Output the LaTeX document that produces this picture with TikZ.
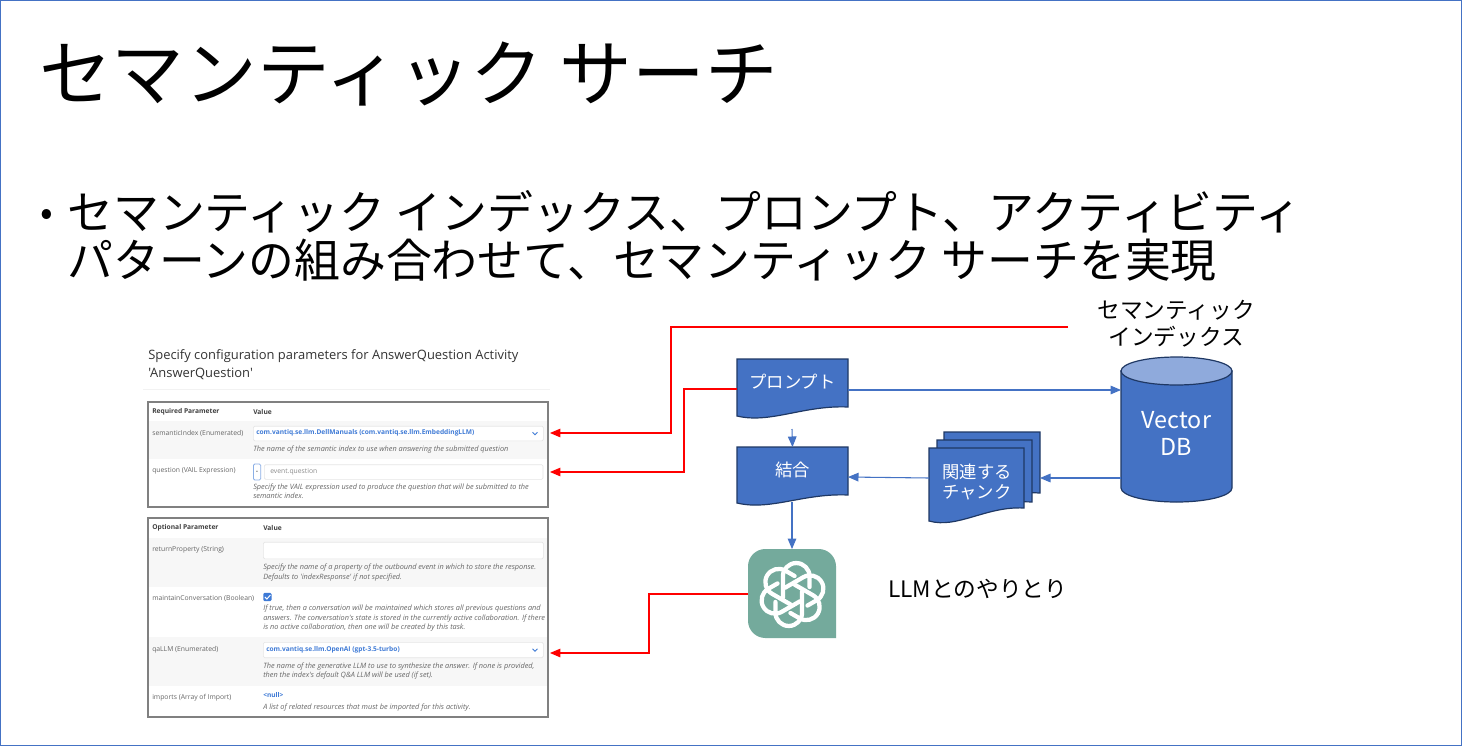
\documentclass[tikz,border=0pt]{standalone}
\usepackage{fontspec}
\setmainfont{Noto Sans CJK JP}
\newfontfamily\panelfont{Open Sans}
\usetikzlibrary{shapes,arrows}
\usetikzlibrary{calc}
\definecolor{myblue}{RGB}{68, 114, 196}
\definecolor{mydark}{RGB}{31, 56, 100}
\definecolor{mylight}{RGB}{143, 170, 220}
\definecolor{mygreen}{RGB}{116, 170, 156}
\definecolor{myframe}{RGB}{128, 128, 128}
\definecolor{myrow}{RGB}{247, 247, 247}
\definecolor{mylink}{RGB}{62, 122, 214}

% wave sheet: left, top, right, bottom at right edge, bottom at left edge
\newcommand{\wavesheet}[5]{
\draw[sheet-line,fill=myblue] (#1,#2) -- (#3,#2) -- (#3,#4) .. controls ($(#1,#4)!0.6!(#3,#4)+(0,-2)$) and ($(#1,#5)!0.3!(#3,#5)+(0,8)$) .. (#1,#5) -- cycle;
}
\newcommand{\chevron}[2]{
\draw[mylink,line width=0.7pt] (#1-2.5,#2-1.2) -- (#1,#2+1.2) -- (#1+2.5,#2-1.2);
}

\begin{document}
\begin{tikzpicture}[x=0.75pt,y=-0.75pt]

\tikzstyle{sheet-line} = [draw=mydark,line width=0.9pt,line join=miter]
\tikzstyle{sheet-box} = [draw=none,text=white,inner sep=0,outer sep=0,font=\fontsize{13}{15.5}\selectfont,align=center]
\tikzstyle{blue-arrow} = [draw=myblue,line width=0.8pt,-triangle 45]
\tikzstyle{red-arrow} = [draw=red,line width=0.8pt,-triangle 45]
\tikzstyle{panel-frame} = [draw=myframe,line width=0.8pt]
\tikzstyle{input-box} = [draw=black!10,fill=white,line width=0.5pt,rounded corners=1pt]
\tikzstyle{panel-name} = [anchor=west,inner sep=0,text=black!60,font=\panelfont\fontsize{5.1}{7}\selectfont]
\tikzstyle{panel-head} = [anchor=west,inner sep=0,text=black!75,font=\panelfont\bfseries\fontsize{5}{7}\selectfont]
\tikzstyle{panel-note} = [anchor=west,inner sep=0,text=black!60,font=\panelfont\itshape\fontsize{5.5}{7.1}\selectfont,align=left]
\tikzstyle{panel-link} = [anchor=west,inner sep=0,text=mylink,font=\panelfont\bfseries\fontsize{4.95}{7}\selectfont]
\tikzstyle{logo-line} = [draw=white,line width=3.2pt,line cap=round,line join=round]

\useasboundingbox (0,0) rectangle (1462,746);
\fill[white] (0,0) rectangle (1462,746);
\draw[myblue,line width=0.75pt] (0.5,0.5) rectangle (1461.5,745.5);

% title and bullet text
\node [anchor=west,inner sep=0,font=\fontsize{54.5}{60}\selectfont] (title) at (39,74) {セマンティック サーチ};
\node [anchor=west,inner sep=0,font=\fontsize{28}{40}\selectfont] (bullet) at (40,217) {•};
\node [anchor=west,inner sep=0,font=\fontsize{34.4}{40}\selectfont] (lineone) at (67,212) {セマンティック インデックス、プロンプト、アクティビティ};
\node [anchor=west,inner sep=0,font=\fontsize{34.4}{40}\selectfont] (linetwo) at (67,260) {パターンの組み合わせて、セマンティック サーチを実現};

% screenshot on the left
\node [anchor=west,inner sep=0,text=black!80,font=\panelfont\fontsize{9.7}{13}\selectfont] (heada) at (148,356) {Specify configuration parameters for AnswerQuestion Activity};
\node [anchor=west,inner sep=0,text=black!80,font=\panelfont\fontsize{9.7}{13}\selectfont] (headb) at (148,373.5) {'AnswerQuestion'};
\draw[black!5,line width=0.5pt] (143,389) -- (550,389);

\fill[myrow] (148,421) rectangle (548,459);
\draw[panel-frame] (148,402) rectangle (548,507);
\node [panel-head] (req) at (152,411.5) {Required Parameter};
\node [panel-head] (val) at (253,411.5) {Value};
\node [panel-name] (semname) at (152,433) {semanticIndex (Enumerated)};
\node [input-box,minimum width=217.5pt,minimum height=11pt,anchor=west,inner sep=0] (semin) at (253,433.5) {};
\node [panel-link] (semval) at (256,433) {com.vantiq.se.llm.DellManuals (com.vantiq.se.llm.EmbeddingLLM)};
\chevron{535}{433.5}
\node [panel-note] (semnote) at (253,449.5) {The name of the semantic index to use when answering the submitted question};
\node [panel-name] (qname) at (152,471) {question (VAIL Expression)};
\node [draw=mylink!60,fill=white,rounded corners=1pt,line width=0.6pt,minimum width=5.5pt,minimum height=12pt,anchor=west,inner sep=0,font=\fontsize{5}{5}\selectfont] (qbtn) at (253,472) {-};
\node [input-box,minimum width=209pt,minimum height=11pt,anchor=west,inner sep=0] (qin) at (264,472) {};
\node [panel-name,text=black!45] (qval) at (270,472) {event.question};
\node [panel-note] (qnote) at (253,491.5) {Specify the VAIL expression used to produce the question that will be submitted to the\\semantic index.};

\fill[myrow] (148,538) rectangle (548,587);
\fill[myrow] (148,637) rectangle (548,686);
\draw[panel-frame] (148,518) rectangle (548,717);
\node [panel-head] (opt) at (152,527.5) {Optional Parameter};
\node [panel-head] (valb) at (263,527.5) {Value};
\node [panel-name] (retname) at (152,549.5) {returnProperty (String)};
\node [input-box,minimum width=210pt,minimum height=12.5pt,anchor=west,inner sep=0] (retin) at (263,550.5) {};
\node [panel-note] (retnote) at (263,572.5) {Specify the name of a property of the outbound event in which to store the response.\\Defaults to 'indexResponse' if not specified.};
\node [panel-name] (mainname) at (152,598.5) {maintainConversation (Boolean)};
\node [fill=mylink,rounded corners=1pt,minimum size=6.2pt,inner sep=0,anchor=west] (check) at (263,597) {};
\draw[white,line width=0.7pt] ($(check.center)+(-2.5,0)$) -- ($(check.center)+(-0.5,2)$) -- ($(check.center)+(3,-2)$);
\node [panel-note] (mainnote) at (263,618.5) {If true, then a conversation will be maintained which stores all previous questions and\\answers. The conversation's state is stored in the currently active collaboration. If there\\is no active collaboration, then one will be created by this task.};
\node [panel-name] (qaname) at (152,649.5) {qaLLM (Enumerated)};
\node [input-box,minimum width=210pt,minimum height=11.5pt,anchor=west,inner sep=0] (qain) at (263,650) {};
\node [panel-link] (qaval) at (266,649.5) {com.vantiq.se.llm.OpenAI (gpt-3.5-turbo)};
\chevron{535}{650}
\node [panel-note] (qanote) at (263,671) {The name of the generative LLM to use to synthesize the answer. If none is provided,\\then the index's default Q\&A LLM will be used (if set).};
\node [panel-name] (impname) at (152,697.5) {imports (Array of Import)};
\node [panel-link] (impval) at (263,695) {<null>};
\node [panel-note] (impnote) at (263,708) {A list of related resources that must be imported for this activity.};

% sheets
\wavesheet{737}{359}{848}{407}{416}
\node [sheet-box,minimum width=83pt,minimum height=36pt] (prompt) at (792.5,382) {プロンプト};
\wavesheet{737}{447}{848}{495}{503}
\node [sheet-box,minimum width=83pt,minimum height=36pt] (merge) at (792.5,470) {結合};
\wavesheet{944}{432}{1040}{493}{493}
\wavesheet{937}{440}{1032}{502}{508}
\wavesheet{929}{448}{1024}{508}{521}
\node [sheet-box,minimum width=71pt,minimum height=45pt] (chunk) at (977,482) {関連する\\チャンク};
\node [minimum width=72pt,minimum height=45pt,inner sep=0] (chunkback) at (992,462.5) {};

% vector db
\draw[sheet-line,fill=myblue] (1121,371) -- (1121,488) arc[start angle=180,end angle=0,x radius=55.5,y radius=14] -- (1232,371) -- cycle;
\draw[sheet-line,fill=mylight] (1176.5,371) ellipse [x radius=55.5,y radius=14];
\node [minimum width=83.25pt,minimum height=105pt,inner sep=0,text=white,align=center,font=\fontsize{17.5}{20.5}\selectfont] (vector) at (1176.5,433.5) {Vector\\DB};

% labels
\node [inner sep=0,align=center,font=\fontsize{17}{20.5}\selectfont] (semlabel) at (1176,324) {セマンティック\\インデックス};
\coordinate (semstart) at (1068,327);
\node [anchor=west,inner sep=0,font=\fontsize{17}{20}\selectfont] (llmlabel) at (888,589) {LLMとのやりとり};

% logo
\fill[mygreen] (792,638) [rounded corners=13pt] -- (748,638) -- (748,549) -- (836,549) -- (836,600) [sharp corners] -- (836,638) -- cycle;
\node [minimum width=66pt,minimum height=66.75pt,inner sep=0] (llm) at (792,593.5) {};
\foreach \a in {0,60,...,300}{
\begin{scope}[shift={(792.5,594.5)},x=0.8pt,y=0.8pt,rotate=\a]
\draw[logo-line] (16,7) -- (16,17) arc[start angle=0,end angle=180,radius=12.5] -- (-9,-3);
\end{scope}
}

% anchors for the free ends
\coordinate (semin-e) at (550,433);
\coordinate (qin-e) at (550,472);
\coordinate (qain-e) at (550,653);
\coordinate (promptdrop) at (792,429);

% red connectors
\draw[red-arrow] (semstart) -- (671,327) -- (671,433) -- (semin-e);
\draw[red-arrow] (737,389) -- (684,389) -- (684,472) -- (qin-e);
\draw[red-arrow] (748,594) -- (649,594) -- (649,653) -- (qain-e);

% blue connectors
\draw[blue-arrow] (848,390) -- (1121,390);
\draw[blue-arrow] (promptdrop) -- (merge.north |- 0,447);
\draw[blue-arrow] (1121,478) -- (1040,478);
\draw[blue-arrow] (929,478) -- (848,477);
\draw[blue-arrow] (792,502) -- (llm.north |- 0,549);

\end{tikzpicture}
\end{document}
